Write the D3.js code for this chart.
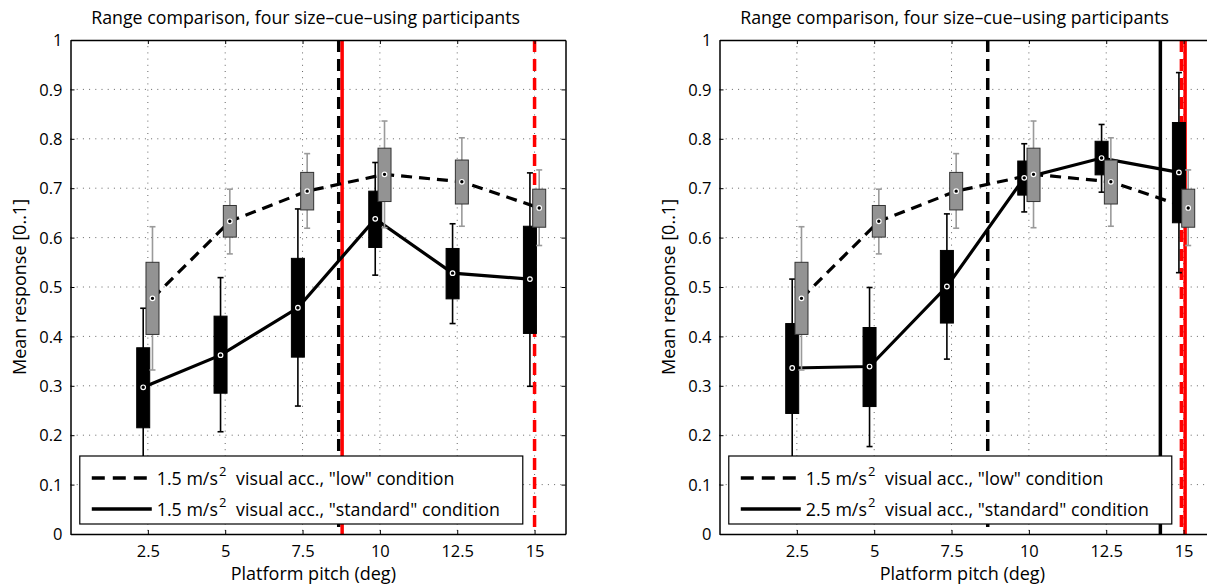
<!DOCTYPE html>
<html>
<head>
<meta charset="utf-8">
<script src="https://cdn.jsdelivr.net/npm/d3@7"></script>
<style>
  html, body { margin: 0; padding: 0; background: #fff; }
  svg { display: block; font-family: "Open Sans", "Noto Sans", sans-serif; }
</style>
</head>
<body>
<svg id="chart" width="1207" height="586"></svg>
<script>
// ---------------- data ----------------
const categories = [2.5, 5, 7.5, 10, 12.5, 15];
const xTickLabels = ["2.5", "5", "7.5", "10", "12.5", "15"];
const yTicks = [0, 0.1, 0.2, 0.3, 0.4, 0.5, 0.6, 0.7, 0.8, 0.9, 1];
const yTickLabels = ["0", "0.1", "0.2", "0.3", "0.4", "0.5", "0.6", "0.7", "0.8", "0.9", "1"];

// "low" condition (1.5 m/s^2), grey boxes, dashed line (same in both panels)
const lowMed = [0.477, 0.633, 0.694, 0.728, 0.713, 0.660];
const lowQ1  = [0.404, 0.601, 0.656, 0.673, 0.668, 0.621];
const lowQ3  = [0.550, 0.665, 0.732, 0.781, 0.757, 0.698];
const lowLo  = [0.332, 0.567, 0.619, 0.620, 0.623, 0.584];
const lowHi  = [0.622, 0.698, 0.770, 0.836, 0.802, 0.737];

// left panel "standard" condition (1.5 m/s^2), black boxes, solid line
const stdAMed = [0.297, 0.362, 0.458, 0.638, 0.528, 0.516];
const stdAQ1  = [0.215, 0.285, 0.358, 0.580, 0.476, 0.406];
const stdAQ3  = [0.377, 0.441, 0.558, 0.694, 0.578, 0.623];
const stdALo  = [0.130, 0.207, 0.259, 0.524, 0.426, 0.299];
const stdAHi  = [0.457, 0.519, 0.658, 0.752, 0.628, 0.731];

// right panel "standard" condition (2.5 m/s^2), black boxes, solid line
const stdBMed = [0.336, 0.339, 0.501, 0.721, 0.761, 0.732];
const stdBQ1  = [0.244, 0.258, 0.427, 0.686, 0.727, 0.630];
const stdBQ3  = [0.426, 0.418, 0.574, 0.755, 0.795, 0.833];
const stdBLo  = [0.130, 0.177, 0.354, 0.652, 0.692, 0.529];
const stdBHi  = [0.516, 0.499, 0.648, 0.790, 0.829, 0.934];

// vertical range markers (x in deg)
const vlinesA = [
  {x: 8.67, color: "#000", dash: true},
  {x: 8.78, color: "#ff0000", dash: false},
  {x: 15.0, color: "#ff0000", dash: true}
];
const vlinesB = [
  {x: 8.67, color: "#000", dash: true},
  {x: 14.25, color: "#000", dash: false},
  {x: 14.93, color: "#ff0000", dash: true},
  {x: 15.05, color: "#ff0000", dash: false}
];

const titleText = "Range comparison, four size\u2013cue\u2013using participants";
const xLabelText = "Platform pitch (deg)";
const yLabelText = "Mean response [0..1]";
const legendA = [
  {pre: "1.5 m/s", post: "  visual acc., \"low\" condition", dash: true},
  {pre: "1.5 m/s", post: "  visual acc., \"standard\" condition", dash: false}
];
const legendB = [
  {pre: "1.5 m/s", post: "  visual acc., \"low\" condition", dash: true},
  {pre: "2.5 m/s", post: "  visual acc., \"standard\" condition", dash: false}
];

// ---------------- drawing ----------------
const svg = d3.select("#chart");
const DASH = "12,7";

function panel(left, right, std, vlines, legend) {
  const top = 40, bottom = 534;
  const x = d3.scaleLinear().domain([0, 16]).range([left, right]);
  const y = d3.scaleLinear().domain([0, 1]).range([bottom, top]);
  const g = svg.append("g");

  // dotted grid
  g.selectAll(".gx").data(categories).join("line")
    .attr("x1", d => x(d)).attr("x2", d => x(d)).attr("y1", top).attr("y2", bottom)
    .attr("stroke", "#666").attr("stroke-width", 1).attr("stroke-dasharray", "1,5.2");
  g.selectAll(".gy").data(yTicks.slice(1, -1)).join("line")
    .attr("x1", left).attr("x2", right).attr("y1", d => y(d)).attr("y2", d => y(d))
    .attr("stroke", "#666").attr("stroke-width", 1).attr("stroke-dasharray", "1,5.2");

  // vertical markers
  g.selectAll(".vl").data(vlines).join("line")
    .attr("x1", d => x(d.x)).attr("x2", d => x(d.x)).attr("y1", top).attr("y2", bottom)
    .attr("stroke", d => d.color).attr("stroke-width", 3.5)
    .attr("stroke-dasharray", d => d.dash ? DASH : null);

  const off = 0.15, bw = 13;
  const stdX = categories.map(c => c - off);
  const lowX = categories.map(c => c + off);

  // connecting lines
  const line = d3.line().x(d => x(d[0])).y(d => y(d[1]));
  g.append("path").datum(lowX.map((v, i) => [v, lowMed[i]])).attr("d", line)
    .attr("fill", "none").attr("stroke", "#000").attr("stroke-width", 3.2).attr("stroke-dasharray", "11,7");
  g.append("path").datum(stdX.map((v, i) => [v, std.med[i]])).attr("d", line)
    .attr("fill", "none").attr("stroke", "#000").attr("stroke-width", 3.2);

  function boxes(xs, s, fill, stroke, wcol) {
    const bg = g.append("g");
    xs.forEach((cx, i) => {
      const px = x(cx);
      bg.append("line").attr("x1", px).attr("x2", px).attr("y1", y(s.lo[i])).attr("y2", y(s.hi[i]))
        .attr("stroke", wcol).attr("stroke-width", 1.6);
      [s.lo[i], s.hi[i]].forEach(v => bg.append("line")
        .attr("x1", px - 3).attr("x2", px + 3).attr("y1", y(v)).attr("y2", y(v))
        .attr("stroke", wcol).attr("stroke-width", 1.6));
      bg.append("rect").attr("x", px - bw / 2).attr("width", bw)
        .attr("y", y(s.q3[i])).attr("height", y(s.q1[i]) - y(s.q3[i]))
        .attr("fill", fill).attr("stroke", stroke).attr("stroke-width", 1);
    });
    return bg;
  }
  boxes(stdX, std, "#000", "#000", "#000");
  boxes(lowX, {med: lowMed, q1: lowQ1, q3: lowQ3, lo: lowLo, hi: lowHi}, "#939393", "#333", "#9a9a9a");

  // median markers
  [[stdX, std.med], [lowX, lowMed]].forEach(([xs, m]) => {
    g.selectAll(null).data(xs).join("circle")
      .attr("cx", d => x(d)).attr("cy", (d, i) => y(m[i])).attr("r", 2.3)
      .attr("fill", "#000").attr("stroke", "#fff").attr("stroke-width", 1.2);
  });

  // axes box + ticks
  const axB = g.append("g").attr("transform", `translate(0,${bottom})`)
    .call(d3.axisBottom(x).tickValues(categories).tickFormat((d, i) => xTickLabels[i]).tickSizeInner(-4).tickSizeOuter(0).tickPadding(11));
  const axT = g.append("g").attr("transform", `translate(0,${top})`)
    .call(d3.axisTop(x).tickValues(categories).tickFormat("").tickSizeInner(-4).tickSizeOuter(0));
  const axL = g.append("g").attr("transform", `translate(${left},0)`)
    .call(d3.axisLeft(y).tickValues(yTicks).tickFormat((d, i) => yTickLabels[i]).tickSizeInner(-4).tickSizeOuter(0).tickPadding(8));
  const axR = g.append("g").attr("transform", `translate(${right},0)`)
    .call(d3.axisRight(y).tickValues(yTicks).tickFormat("").tickSizeInner(-4).tickSizeOuter(0));
  [axB, axT, axL, axR].forEach(a => {
    a.select(".domain").attr("stroke", "#000").attr("stroke-width", 1.5);
    a.selectAll(".tick line").attr("stroke", "#000").attr("stroke-width", 1);
    a.selectAll("text").attr("font-size", 16.5).attr("fill", "#000").attr("font-family", "Open Sans");
  });
  axL.selectAll(".tick text").attr("dy", "0.34em");

  // legend
  const lx = x(0.3), lw = 443, ly = 456, lh = 68;
  const lg = g.append("g");
  lg.append("rect").attr("x", lx).attr("y", ly).attr("width", lw).attr("height", lh)
    .attr("fill", "#fff").attr("stroke", "#000").attr("stroke-width", 1.2);
  legend.forEach((d, i) => {
    const yy = ly + 22 + i * 31;
    lg.append("line").attr("x1", lx + 12).attr("x2", lx + 72).attr("y1", yy).attr("y2", yy)
      .attr("stroke", "#000").attr("stroke-width", 3.5).attr("stroke-dasharray", d.dash ? "13,8" : null);
    const t1 = lg.append("text").attr("x", lx + 77).attr("y", yy + 7).attr("font-size", 17.8).text(d.pre);
    const w1 = t1.node().getComputedTextLength();
    lg.append("text").attr("x", lx + 78 + w1).attr("y", yy - 2).attr("font-size", 13).text("2");
    lg.append("text").attr("x", lx + 78 + w1 + 8).attr("y", yy + 7).attr("font-size", 17.8)
      .attr("xml:space", "preserve").style("white-space", "pre").text(d.post);
  });

  // title & labels
  g.append("text").attr("x", x(7.6)).attr("y", 24).attr("text-anchor", "middle")
    .attr("font-size", 17.8).text(titleText);
  g.append("text").attr("x", x(7.85)).attr("y", 580).attr("text-anchor", "middle")
    .attr("font-size", 18).text(xLabelText);
  g.append("text").attr("transform", `translate(${left - 45},${(top + bottom) / 2}) rotate(-90)`)
    .attr("text-anchor", "middle").attr("font-size", 18).text(yLabelText);
}

panel(70.5, 565.5, {med: stdAMed, q1: stdAQ1, q3: stdAQ3, lo: stdALo, hi: stdAHi}, vlinesA, legendA);
panel(719.5, 1214.5, {med: stdBMed, q1: stdBQ1, q3: stdBQ3, lo: stdBLo, hi: stdBHi}, vlinesB, legendB);
</script>
</body>
</html>
